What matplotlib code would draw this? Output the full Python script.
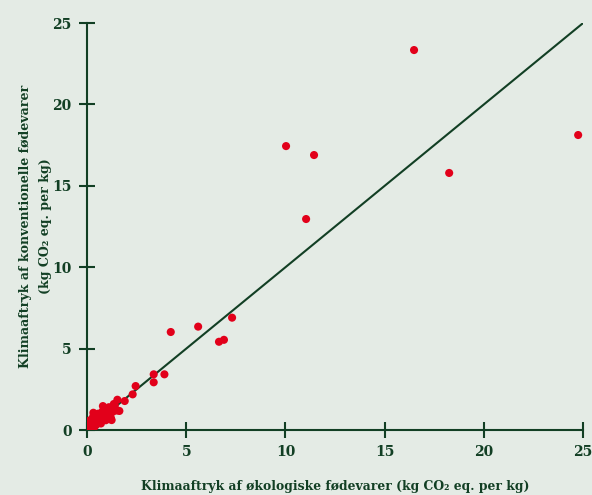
import matplotlib
matplotlib.use('Agg')
import matplotlib.pyplot as plt
import numpy as np

# organic (x) vs conventional (y) climate footprint, kg CO2 eq. per kg
organic = [
    16.48, 24.75, 18.25, 10.03, 11.44, 11.04,
    7.31, 5.60, 4.22, 6.65, 6.90,
    3.36, 3.36, 3.90,
    2.30, 2.45, 1.90, 1.53, 1.24,
    0.05, 0.10, 0.15, 0.20, 0.25, 0.30, 0.32, 0.35, 0.40, 0.45, 0.50,
    0.55, 0.60, 0.65, 0.70, 0.75, 0.80, 0.80, 0.85, 0.90, 0.95, 1.00,
    1.05, 1.10, 1.15, 1.20, 1.30, 1.35, 1.40, 1.50, 1.63,
]
conventional = [
    23.34, 18.12, 15.79, 17.44, 16.89, 12.96,
    6.90, 6.35, 6.02, 5.42, 5.54,
    3.42, 2.93, 3.42,
    2.19, 2.70, 1.78, 1.86, 0.61,
    0.10, 0.30, 0.60, 0.20, 0.45, 0.80, 1.06, 0.15, 0.50, 0.30, 0.70,
    1.00, 0.55, 0.85, 0.40, 1.10, 0.75, 1.47, 1.30, 0.95, 0.60, 1.20,
    0.90, 1.40, 1.05, 0.75, 1.12, 1.60, 1.50, 1.20, 1.17,
]
ticks = [0, 5, 10, 15, 20, 25]

bg_color = '#e4ebe5'
green = '#123f24'
red = '#e2001a'
font = ['DejaVu Serif', 'DejaVu Sans']

fig = plt.figure(figsize=(5.92, 4.95), dpi=100)
fig.patch.set_facecolor(bg_color)
ax = fig.add_axes([0.147, 0.1313, 0.838, 0.8222])
ax.set_facecolor(bg_color)

# 1:1 reference line
ax.plot([0, 25], [0, 25], color=green, linewidth=1.5, zorder=2)
ax.scatter(organic, conventional, s=34, color=red, edgecolors='none', zorder=3)

ax.set_xlim(0, 25)
ax.set_ylim(0, 25)
ax.set_xticks(ticks)
ax.set_yticks(ticks)
ax.set_xticklabels([str(t) for t in ticks], family=font, fontweight='bold',
                   fontsize=10, color=green)
ax.set_yticklabels([str(t) for t in ticks], family=font, fontweight='bold',
                   fontsize=10, color=green)
ax.tick_params(direction='inout', length=12, width=1.5, color=green, pad=5)

for side in ['top', 'right']:
    ax.spines[side].set_visible(False)
for side in ['left', 'bottom']:
    ax.spines[side].set_color(green)
    ax.spines[side].set_linewidth(1.5)

ax.set_xlabel('Klimaaftryk af økologiske fødevarer (kg CO₂ eq. per kg)',
              family=font, fontweight='bold', fontsize=8.9, color=green, labelpad=15)
ax.set_ylabel('Klimaaftryk af konventionelle fødevarer\n(kg CO₂ eq. per kg)',
              family=font, fontweight='bold', fontsize=9.1, color=green,
              labelpad=0, linespacing=1.75)

fig.savefig('out.png', dpi=100, facecolor=bg_color)
